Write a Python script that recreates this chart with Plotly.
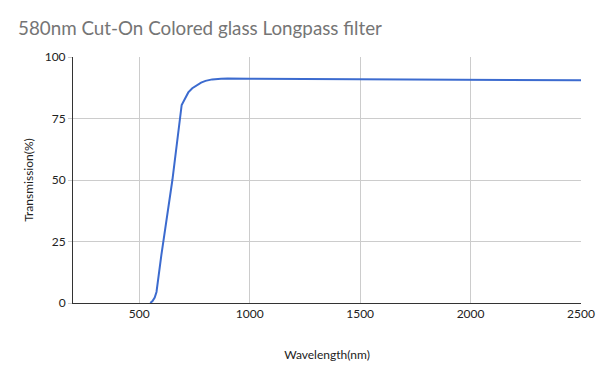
import plotly.graph_objects as go

wavelength = [550, 560, 570, 578, 600, 650, 692, 700, 710, 722, 740, 760, 780, 800, 830, 870, 900, 1000, 1250, 1500, 1750, 2000, 2250, 2500]
transmission = [0, 0.8, 2.2, 4.5, 19.5, 50, 80.5, 82, 84, 85.6, 87.3, 88.6, 89.6, 90.3, 90.9, 91.2, 91.3, 91.2, 91.1, 90.9, 90.8, 90.7, 90.6, 90.5]

x_ticks = [500, 1000, 1500, 2000, 2500]
y_ticks = [0, 25, 50, 75, 100]

fig = go.Figure()
fig.add_trace(go.Scatter(
    x=wavelength, y=transmission, mode="lines",
    line=dict(color="#3c6bcf", width=2),
    hoverinfo="skip", showlegend=False,
))

font_family = "Lato, 'Open Sans', sans-serif"
fig.update_layout(
    width=600, height=371,
    margin=dict(l=73, r=19, t=57, b=68),
    paper_bgcolor="white", plot_bgcolor="white",
    title=dict(text="580nm Cut-On Colored glass Longpass filter",
               x=18/600, xanchor="left", y=1-28/371, yanchor="middle",
               font=dict(family=font_family, size=18.8, color="#757575")),
    font=dict(family=font_family, size=12, color="#222222"),
    xaxis=dict(range=[200, 2500], tickvals=x_ticks, showgrid=True, gridcolor="#cccccc",
               gridwidth=1, showline=True, linecolor="#333333", linewidth=1,
               zeroline=False, ticks="", automargin=False,
               title=dict(text="Wavelength(nm)", standoff=30, font=dict(size=12))),
    yaxis=dict(range=[0, 100], tickvals=y_ticks, showgrid=True, gridcolor="#cccccc",
               gridwidth=1, showline=True, linecolor="#333333", linewidth=1,
               zeroline=False, ticks="outside", ticklen=4, tickcolor="#cccccc",
               automargin=False,
               title=dict(text="Transmission(%)", standoff=8, font=dict(size=12))),
)

fig.write_html("out.html", config={"displayModeBar": False},
               post_script="document.body.style.margin='0';document.body.style.padding='0';")
